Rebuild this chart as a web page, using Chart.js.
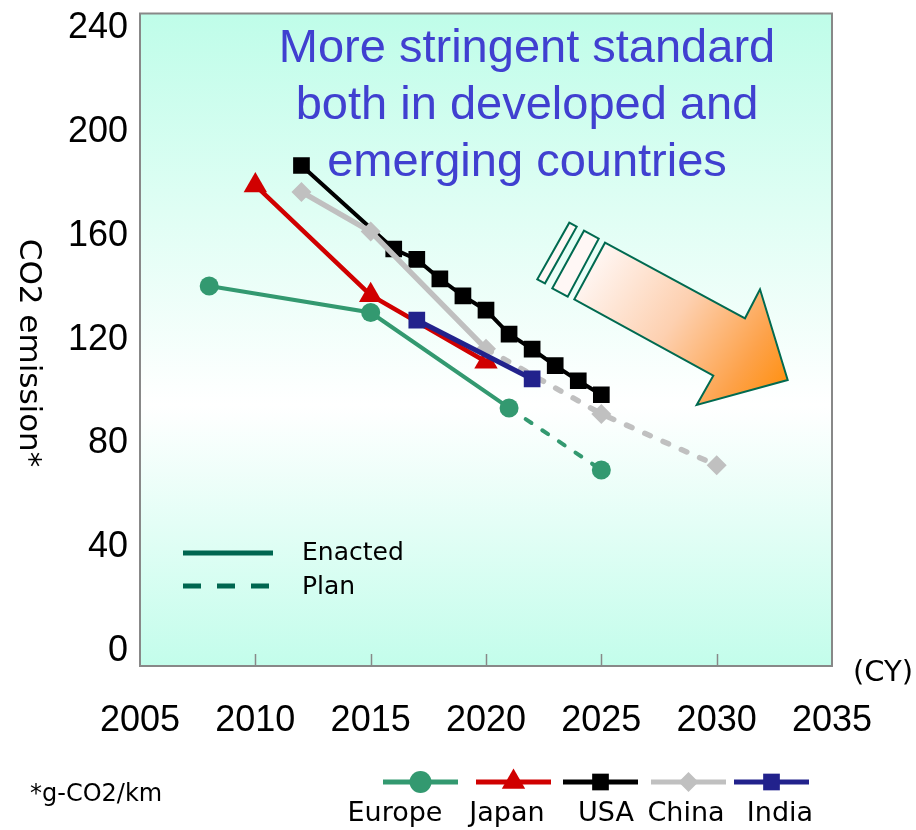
<!DOCTYPE html>
<html>
<head>
<meta charset="utf-8">
<title>CO2 emission standards</title>
<script src="https://cdn.jsdelivr.net/npm/chart.js@4.4.1/dist/chart.umd.min.js"></script>
<style>
  html, body { margin: 0; padding: 0; background: #fff; }
  #wrap { width: 916px; height: 830px; }
</style>
</head>
<body>
<div id="wrap"><canvas id="co2Chart" width="916" height="830"></canvas></div>
<script>
// CO2 targets per region, g-CO2/km by calendar year
const europeYears = [2008, 2015, 2021, 2025];
const europeValues = [140.7, 130.5, 93.7, 69.8];

const japanYears = [2010, 2015, 2020];
const japanValues = [179.5, 137.2, 111.5];

const usaYears = [2012, 2016, 2017, 2018, 2019, 2020, 2021, 2022, 2023, 2024, 2025];
const usaValues = [187.2, 155.0, 151.0, 143.5, 136.9, 131.4, 122.2, 116.4, 110.0, 104.2, 98.8];

const chinaYears = [2012, 2015, 2020, 2025, 2030];
const chinaValues = [177.0, 161.7, 116.5, 91.4, 71.6];

const indiaYears = [2017, 2022];
const indiaValues = [127.6, 104.9];

// segments starting at or after these years are plans (dashed)
const europePlanFrom = 2021;
const chinaPlanFrom = 2020;

const xTicks = [2005, 2010, 2015, 2020, 2025, 2030, 2035];
const yTicks = [0, 40, 80, 120, 160, 200, 240];

const headline = ['More stringent standard', 'both in developed and', 'emerging countries'];

function series(label, years, values, color, style, radius, width, order, planFrom, dash) {
    const ds = {
        label: label,
        data: years.map((x, i) => ({ x: x, y: values[i] })),
        borderColor: color,
        backgroundColor: color,
        pointBackgroundColor: color,
        pointBorderWidth: 0,
        pointStyle: style,
        pointRadius: radius,
        pointHoverRadius: radius,
        borderWidth: width,
        tension: 0,
        order: order
    };
    if (planFrom) {
        ds.borderCapStyle = 'round';
        ds.segment = {
            borderDash: ctx => ctx.p0.parsed.x >= planFrom ? dash : undefined
        };
    }
    return ds;
}

const datasets = [
    series('Europe', europeYears, europeValues, '#339970', 'circle', 9.5, 4, 5, europePlanFrom, [7, 13]),
    series('Japan', japanYears, japanValues, '#d00000', 'triangle', 13.5, 4.5, 4),
    series('USA', usaYears, usaValues, '#000000', 'rect', 11.8, 4, 3),
    series('China', chinaYears, chinaValues, '#c0c0c0', 'rectRot', 10, 5.5, 2, chinaPlanFrom, [6, 14]),
    series('India', indiaYears, indiaValues, '#22228c', 'rect', 11.8, 5, 1)
];

const sansFont = 'DejaVu Sans';
const arialFont = 'Liberation Sans';

function poly(ctx, pts) {
    ctx.beginPath();
    pts.forEach((p, i) => i ? ctx.lineTo(p[0], p[1]) : ctx.moveTo(p[0], p[1]));
    ctx.closePath();
}

// background, headline, arrow, frame and the two legends
const decorPlugin = {
    id: 'decor',
    beforeDraw(chart) {
        const { ctx, chartArea: a } = chart;
        ctx.save();
        ctx.fillStyle = '#fff';
        ctx.fillRect(0, 0, chart.width, chart.height);
        const g = ctx.createLinearGradient(0, a.top, 0, a.bottom);
        g.addColorStop(0, '#bffde9');
        g.addColorStop(0.6, '#ffffff');
        g.addColorStop(1, '#c3fdeb');
        ctx.fillStyle = g;
        ctx.fillRect(a.left, a.top, a.right - a.left, a.bottom - a.top);
        ctx.restore();
    },
    beforeDatasetsDraw(chart) {
        const ctx = chart.ctx;
        ctx.save();

        // headline
        ctx.fillStyle = '#4040d0';
        ctx.font = '47px "' + arialFont + '"';
        ctx.textAlign = 'center';
        ctx.textBaseline = 'alphabetic';
        headline.forEach((t, i) => ctx.fillText(t, 527, 62 + i * 57));

        // arrow
        ctx.lineWidth = 2;
        ctx.strokeStyle = '#006a50';
        ctx.lineJoin = 'miter';
        const body = [[605, 242.7], [745, 318.3], [760, 289.3], [787.7, 380], [696.7, 405], [713.3, 375.7], [574.3, 299.3]];
        const grad = ctx.createLinearGradient(590, 255, 785, 390);
        grad.addColorStop(0, '#fff8f6');
        grad.addColorStop(0.45, '#fdd0b0');
        grad.addColorStop(0.8, '#fda24a');
        grad.addColorStop(1, '#ff9010');
        poly(ctx, body);
        ctx.fillStyle = grad;
        ctx.fill();
        ctx.stroke();
        const stripes = [
            [[584, 230.7], [598.7, 238.7], [567.7, 296.7], [552.3, 288.3]],
            [[569.3, 222.7], [576.7, 226.7], [545, 283.3], [537.3, 279.3]]
        ];
        stripes.forEach(s => {
            poly(ctx, s);
            ctx.fillStyle = '#fff7f5';
            ctx.fill();
            ctx.stroke();
        });
        ctx.restore();
    },
    afterDraw(chart) {
        const { ctx, chartArea: a, scales } = chart;
        ctx.save();

        // frame and inner ticks
        ctx.strokeStyle = '#888';
        ctx.lineWidth = 2;
        ctx.strokeRect(a.left, a.top, a.right - a.left, a.bottom - a.top);
        ctx.lineWidth = 1.5;
        xTicks.slice(1, -1).forEach(v => {
            const x = Math.round(scales.x.getPixelForValue(v)) + 0.5;
            ctx.beginPath();
            ctx.moveTo(x, a.bottom - 12);
            ctx.lineTo(x, a.bottom);
            ctx.stroke();
        });

        // axis titles and footnote
        ctx.fillStyle = '#000';
        ctx.textBaseline = 'middle';
        ctx.font = '31px "' + sansFont + '"';
        ctx.save();
        ctx.translate(28, 353);
        ctx.rotate(Math.PI / 2);
        ctx.textAlign = 'center';
        ctx.fillText('CO2 emission*', 0, 0);
        ctx.restore();

        ctx.textAlign = 'left';
        ctx.font = '29px "' + sansFont + '"';
        ctx.fillText('(CY)', 853, 673);
        ctx.font = '24px "' + sansFont + '"';
        ctx.fillText('*g-CO2/km', 30, 795);

        // Enacted / Plan key
        ctx.strokeStyle = '#006650';
        ctx.lineWidth = 5;
        ctx.beginPath();
        ctx.moveTo(183, 553);
        ctx.lineTo(273, 553);
        ctx.stroke();
        ctx.setLineDash([18, 16]);
        ctx.beginPath();
        ctx.moveTo(183, 586);
        ctx.lineTo(270, 586);
        ctx.stroke();
        ctx.setLineDash([]);
        ctx.font = '25px "' + sansFont + '"';
        ctx.fillText('Enacted', 302, 553);
        ctx.fillText('Plan', 302, 587);

        // series key along the bottom
        const lineStarts = [383, 476, 563, 651, 734];
        const labelCenters = [395, 507, 606, 686, 780];
        ctx.font = '27px "' + sansFont + '"';
        ctx.textAlign = 'center';
        chart.data.datasets.forEach((ds, i) => {
            const x0 = lineStarts[i];
            ctx.strokeStyle = ds.borderColor;
            ctx.fillStyle = ds.borderColor;
            ctx.lineWidth = 5;
            ctx.beginPath();
            ctx.moveTo(x0, 782);
            ctx.lineTo(x0 + 75, 782);
            ctx.stroke();
            Chart.helpers.drawPoint(ctx, {
                pointStyle: ds.pointStyle,
                radius: ds.pointStyle === 'circle' ? 11 : ds.pointRadius,
                rotation: 0,
                borderWidth: 0
            }, x0 + 37.5, 782);
            ctx.fillStyle = '#000';
            ctx.fillText(ds.label, labelCenters[i], 814);
        });
        ctx.restore();
    }
};

function initializeChart() {
    const ctx = document.getElementById('co2Chart').getContext('2d');
    window.co2Chart = new Chart(ctx, {
        type: 'line',
        data: { datasets: datasets },
        options: {
            responsive: false,
            animation: false,
            events: [],
            layout: { padding: { top: 10, right: 84, left: 0, bottom: 0 } },
            plugins: {
                legend: { display: false },
                tooltip: { enabled: false }
            },
            scales: {
                x: {
                    type: 'linear',
                    min: 2005,
                    max: 2035,
                    grid: { display: false, drawTicks: false },
                    border: { display: false },
                    afterBuildTicks: s => { s.ticks = xTicks.map(v => ({ value: v })); },
                    afterFit: s => {
                        s.height = 164;
                        s.paddingLeft = 0;
                        s.paddingRight = 0;
                    },
                    ticks: {
                        color: '#000',
                        font: { family: arialFont, size: 36 },
                        padding: 33,
                        maxRotation: 0,
                        autoSkip: false,
                        callback: v => String(v)
                    }
                },
                y: {
                    type: 'linear',
                    min: -5.8,
                    max: 245.8,
                    grid: { display: false, drawTicks: false },
                    border: { display: false },
                    afterBuildTicks: s => { s.ticks = yTicks.map(v => ({ value: v })); },
                    afterFit: s => {
                        s.width = 140;
                        s.paddingTop = 0;
                        s.paddingBottom = 0;
                    },
                    ticks: {
                        color: '#000',
                        font: { family: arialFont, size: 36 },
                        padding: 12,
                        autoSkip: false,
                        callback: v => String(v)
                    }
                }
            }
        },
        plugins: [decorPlugin]
    });
}

document.addEventListener('DOMContentLoaded', initializeChart);
</script>
</body>
</html>
